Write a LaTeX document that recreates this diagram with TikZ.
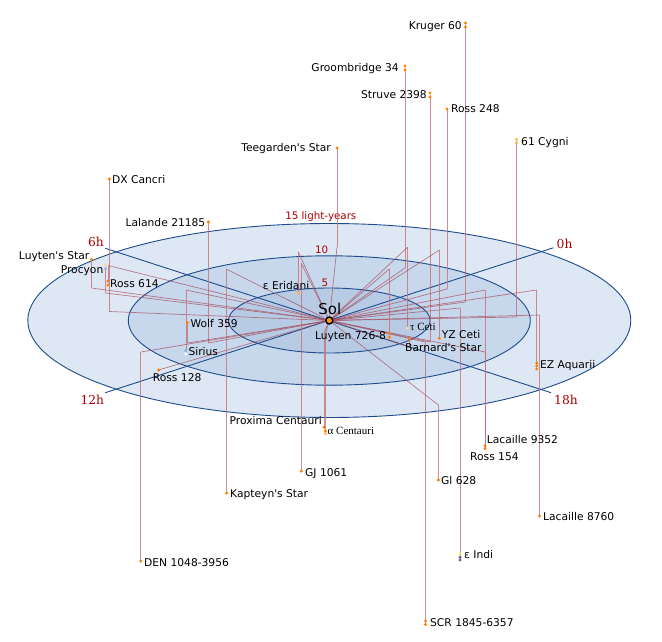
\documentclass[tikz,border=0pt]{standalone}
\usepackage{fontspec}
\setmainfont{DejaVu Sans}[Ligatures=TeXOff]
\newfontfamily\serifx{Liberation Serif}
\newfontfamily\hourfont{DejaVu Serif}
\definecolor{diskA}{RGB}{222,232,244}
\definecolor{diskB}{RGB}{199,215,236}
\definecolor{diskC}{RGB}{183,203,229}
\definecolor{rim}{RGB}{30,75,140}
\definecolor{dred}{RGB}{170,0,0}
\definecolor{radc}{RGB}{165,75,90}
\definecolor{vertc}{RGB}{200,110,120}
\definecolor{sorange}{RGB}{255,128,0}
\definecolor{syellow}{RGB}{255,180,60}
\definecolor{sbright}{RGB}{255,230,70}
\definecolor{spale}{RGB}{255,216,150}
\definecolor{sblue}{RGB}{143,179,223}
\definecolor{spurple}{RGB}{120,90,135}
\begin{document}
\begin{tikzpicture}[x=1pt,y=-1pt,
  rimline/.style={draw=rim, line width=0.9pt},
  radial/.style={draw=radc, line width=0.7pt, opacity=0.7},
  vert/.style={draw=vertc, line width=1pt, opacity=0.8},
  stardot/.style={circle, inner sep=0pt, minimum size=3.4pt, fill=sorange},
  lbl/.style={inner sep=0pt, font=\fontsize{10.7}{12}\selectfont, text=black},
  slbl/.style={inner sep=0pt, font=\serifx\fontsize{11}{12}\selectfont, text=black},
  dlbl/.style={inner sep=0pt, font=\fontsize{10.3}{12}\selectfont, text=dred},
  hlbl/.style={inner sep=0pt, font=\hourfont\fontsize{12.3}{14}\selectfont, text=dred}]
\useasboundingbox (0,0) rectangle (662,642);
\fill[white] (0,0) rectangle (662,642);
\coordinate (sol) at (329.3,320.5);
% disks
\draw[rimline, fill=diskA] (sol) ellipse [x radius=301.5pt, y radius=97pt];
\draw[rimline, fill=diskB] (sol) ellipse [x radius=201pt, y radius=64.7pt];
\draw[rimline, fill=diskC] (sol) ellipse [x radius=100.8pt, y radius=32.5pt];
% hour lines
\coordinate (h0) at (553.3,247.8);
\coordinate (h6) at (105.3,248.3);
\coordinate (h12) at (105.3,392.7);
\coordinate (h18) at (551,392.7);
\draw[rimline] (h12) -- (h0);
\draw[rimline] (h6) -- (h18);
\node[hlbl, anchor=base west] (l0) at (556.5,248.3) {0h};
\node[hlbl, anchor=base east] (l6) at (104,246.7) {6h};
\node[hlbl, anchor=base east] (l12) at (104.3,404) {12h};
\node[hlbl, anchor=base west] (l18) at (554,404.3) {18h};
% distance labels
\node[dlbl, anchor=base] (d15) at (320.8,219.5) {15 light-years};
\node[dlbl, anchor=base] (d10) at (321.7,253.3) {10};
\node[dlbl, anchor=base] (d5) at (325,286) {5};
% connectors: sol -> foot on plane -> star
\foreach \n/\x/\fy/\sy in {
  kr/465.5/302/25, gb/405/268/68, st/430/342/95, rb/447/289/109,
  cy/516.5/317/141, tg/337/247/148, dx/109.3/311.5/179, la/208.3/343/222,
  ly/91.5/288/259.5, pr/105.5/293/267, ro/108/265.5/283, er/298.3/251.7/293,
  wo/187.3/343/322.7, si/186/290/352, rc/159/369.8/370, lu/389.3/269/335,
  tc/407.5/247.3/328, yz/439.5/250/338.5, ba/409.3/347/339, ez/536.7/290/366,
  px/324/333/427, ac/325.5/334/432, lc/485/290/446, rd/485/352/449,
  gj/301.3/263.3/471, gl/438.3/405/480, ka/226.7/269.3/493, le/539.5/315/516,
  ei/460/308/557, de/140.7/352/561, sc/425.5/342/622.5}{
  \coordinate (f-\n) at (\x,\fy);
  \coordinate (s-\n) at (\x,\sy);
  \draw[radial] (sol) -- (f-\n);
  \draw[vert] (f-\n) -- (s-\n);
}
% star dots
\node[stardot] (kr1) at (465.5,23) {};
\node[stardot] (kr2) at (465.5,27) {};
\node[stardot] (gb1) at (405,66) {};
\node[stardot] (gb2) at (405,70) {};
\node[stardot] (st1) at (430,93) {};
\node[stardot] (st2) at (430,97) {};
\node[stardot] (rb1) at (447,109) {};
\node[stardot, fill=syellow] (cy1) at (516.5,139.5) {};
\node[stardot, fill=syellow] (cy2) at (516.5,143) {};
\node[stardot] (tg1) at (337,148) {};
\node[stardot] (dx1) at (109.3,179) {};
\node[stardot] (la1) at (208.3,222) {};
\node[stardot] (ly1) at (91.5,259.5) {};
\node[stardot, fill=spale] (pr1) at (105.5,265.3) {};
\node[stardot, fill=sblue] (pr2) at (105.5,268.7) {};
\node[stardot] (ro1) at (108,281) {};
\node[stardot] (ro2) at (108,285) {};
\node[stardot, fill=syellow] (er1) at (298.3,293) {};
\node[stardot] (wo1) at (187.3,322.7) {};
\node[stardot, fill=sblue] (si1) at (185.7,350.7) {};
\node[stardot, fill=white] (si2) at (185.7,354) {};
\node[stardot] (rc1) at (158.7,370) {};
\node[stardot] (lu1) at (389.3,333) {};
\node[stardot] (lu2) at (389.3,337) {};
\node[stardot, fill=spale] (tc1) at (407.5,328.3) {};
\node[stardot] (yz1) at (439.3,338.3) {};
\node[stardot] (ba1) at (409.3,339.3) {};
\node[stardot] (ez1) at (536.7,363) {};
\node[stardot] (ez2) at (536.7,366) {};
\node[stardot] (ez3) at (536.7,369) {};
\node[stardot] (px1) at (324,427.3) {};
\node[stardot] (ac1) at (325.3,431) {};
\node[stardot, fill=syellow] (ac2) at (325.3,433.5) {};
\node[stardot] (lc1) at (485,445.7) {};
\node[stardot] (rd1) at (485,448.5) {};
\node[stardot] (gj1) at (301.3,471) {};
\node[stardot] (gl1) at (438.3,480) {};
\node[stardot] (ka1) at (226.7,493) {};
\node[stardot] (le1) at (539.5,516) {};
\node[stardot, fill=sbright] (ei1) at (460,554) {};
\node[stardot, fill=spurple] (ei2) at (460,557.3) {};
\node[stardot, fill=spurple] (ei3) at (460,560) {};
\node[stardot] (de1) at (140.7,561) {};
\node[stardot] (sc1) at (425.5,621) {};
\node[stardot] (sc2) at (425.5,624.5) {};
% labels
\node[lbl, anchor=base east] (t-kr) at (462,30) {Kruger 60};
\node[lbl, anchor=base east] (t-gb) at (399,72) {Groombridge 34};
\node[lbl, anchor=base east] (t-st) at (427,99) {Struve 2398};
\node[lbl, anchor=base west] (t-rb) at (451,113) {Ross 248};
\node[lbl, anchor=base west] (t-cy) at (521,146) {61 Cygni};
\node[lbl, anchor=base east] (t-tg) at (331,151) {Teegarden's Star};
\node[lbl, anchor=base west] (t-dx) at (112,183) {DX Cancri};
\node[lbl, anchor=base east] (t-la) at (205.5,226) {Lalande 21185};
\node[lbl, anchor=base east] (t-ly) at (89.5,259.8) {Luyten's Star};
\node[lbl, anchor=base east] (t-pr) at (103.5,273.8) {Procyon};
\node[lbl, anchor=base west] (t-ro) at (110,287) {Ross 614};
\node[lbl, anchor=base east] (t-er) at (309.5,289.5) {ε Eridani};
\node[lbl, anchor=base west] (t-wo) at (190.5,327) {Wolf 359};
\node[lbl, anchor=base west] (t-si) at (188.3,355.5) {Sirius};
\node[lbl, anchor=base west] (t-rc) at (152.7,381.5) {Ross 128};
\node[lbl, anchor=base east] (t-lu) at (386.2,339.5) {Luyten 726-8};
\node[slbl, anchor=base west] (t-tc) at (410,330.5) {τ Ceti};
\node[lbl, anchor=base west] (t-yz) at (441.7,338) {YZ Ceti};
\node[lbl, anchor=base west] (t-ba) at (405,351.5) {Barnard's Star};
\node[lbl, anchor=base west] (t-ez) at (540,368) {EZ Aquarii};
\node[lbl, anchor=base east] (t-px) at (322,424) {Proxima Centauri};
\node[slbl, anchor=base west] (t-ac) at (327.5,434) {α Centauri};
\node[lbl, anchor=base west] (t-lc) at (486.7,443.5) {Lacaille 9352};
\node[lbl, anchor=base west] (t-rd) at (470,460) {Ross 154};
\node[lbl, anchor=base west] (t-gj) at (305,476) {GJ 1061};
\node[lbl, anchor=base west] (t-gl) at (441,484) {Gl 628};
\node[lbl, anchor=base west] (t-ka) at (230,497) {Kapteyn's Star};
\node[lbl, anchor=base west] (t-le) at (543,520) {Lacaille 8760};
\node[lbl, anchor=base west] (t-ei) at (464,558) {ε Indi};
\node[lbl, anchor=base west] (t-de) at (144,566) {DEN 1048-3956};
\node[lbl, anchor=base west] (t-sc) at (430,626) {SCR 1845-6357};
% Sol
\node[circle, inner sep=0pt, minimum size=7pt, fill=sorange!80!yellow, draw=black, line width=1.4pt] (solmark) at (sol) {};
\node[inner sep=0pt, font=\fontsize{15}{17}\selectfont, anchor=base] (t-sol) at (329.8,314.3) {Sol};
\end{tikzpicture}
\end{document}
